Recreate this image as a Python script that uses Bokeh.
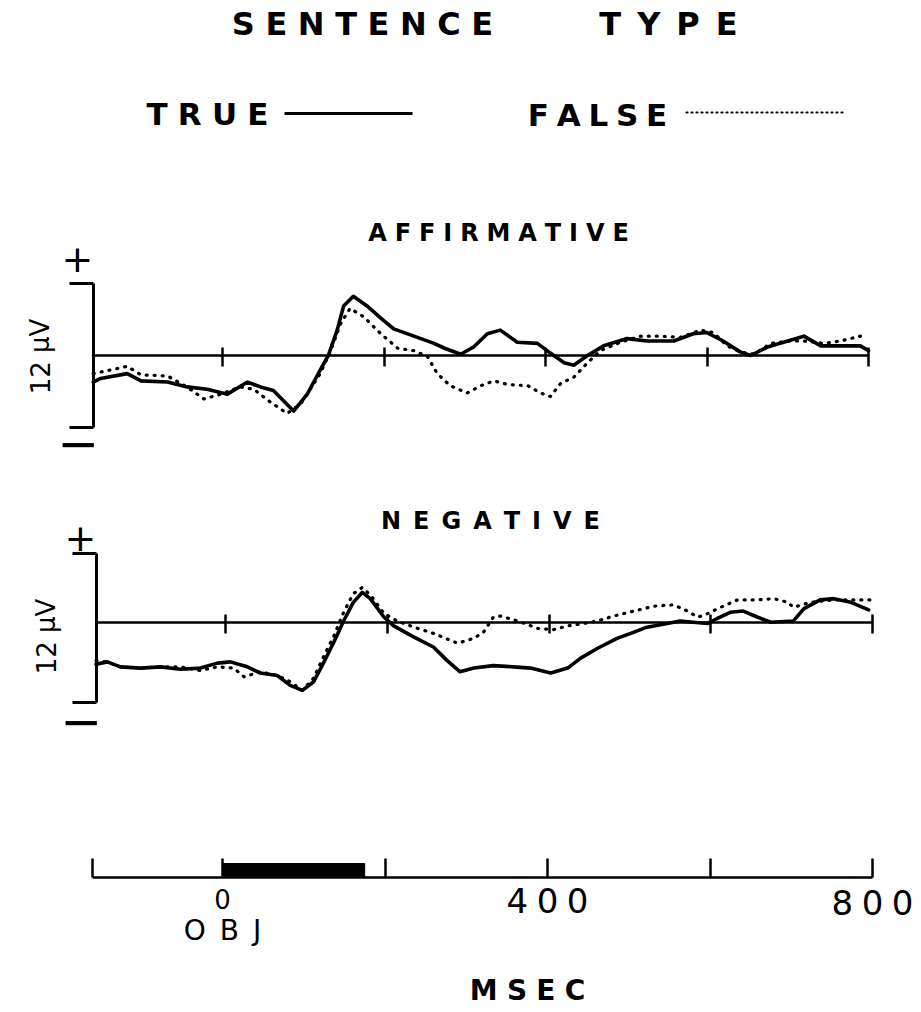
from bokeh.plotting import figure
from bokeh.models import Range1d, LinearAxis, FixedTicker, ColumnDataSource
from bokeh.layouts import column
from bokeh.embed import file_html
from bokeh.resources import INLINE
from bokeh.core.properties import value

# ---------------- data ----------------
T_START = -160
T_END = 800
AXIS_TICKS = [0, 200, 400, 600, 800]
TIME_TICKS = [-160, 0, 200, 400, 600, 800]
TIME_LABEL_VALUES = [0, 400, 800]
TIME_LABELS = ["0", "400", "800"]
STIM_ONSET = 0
STIM_OFFSET = 175
CAL_UV = 12

aff_true_t = [-160, -151, -118, -101, -68, -44, -19, 6, 31, 47, 63, 88, 105, 121, 131, 142,
              150, 162, 179, 196, 212, 237, 262, 275, 295, 311, 328, 344, 365, 390, 406, 423,
              435, 452, 472, 501, 526, 559, 583, 600, 620, 641, 654, 675, 700, 720, 741, 765,
              790, 800]
aff_true_v = [-2.2, -1.9, -1.5, -2.1, -2.2, -2.6, -2.8, -3.2, -2.2, -2.6, -2.9, -4.6, -3.2, -1.2,
              0.0, 2.1, 4.1, 4.9, 4.1, 3.1, 2.2, 1.6, 1.0, 0.6, 0.1, 0.7, 1.8, 2.1, 1.1, 1.0, 0.2,
              -0.6, -0.8, 0.0, 0.8, 1.4, 1.2, 1.2, 1.8, 1.9, 1.2, 0.3, 0.0, 0.7, 1.2, 1.6, 0.8,
              0.8, 0.8, 0.4]

aff_false_t = [-160, -139, -118, -101, -68, -44, -23, -2, 22, 39, 56, 80, 97, 121, 134, 146,
               158, 175, 196, 217, 237, 254, 266, 282, 303, 320, 336, 353, 378, 394, 406, 419,
               435, 452, 468, 493, 518, 542, 567, 592, 608, 625, 641, 658, 679, 703, 720, 745,
               765, 790]
aff_false_v = [-1.5, -1.2, -0.9, -1.6, -1.7, -2.6, -3.6, -3.2, -2.6, -2.8, -3.7, -4.8, -4.0, -1.5,
               0.4, 2.6, 3.9, 3.2, 1.8, 0.6, 0.4, -0.1, -1.5, -2.5, -3.1, -2.5, -2.1, -2.4, -2.5,
               -3.1, -3.4, -2.3, -1.8, -0.6, 0.4, 1.1, 1.6, 1.6, 1.5, 2.1, 1.9, 0.8, 0.3, 0.1,
               1.0, 1.2, 1.2, 1.0, 1.2, 1.6]

neg_true_t = [-160, -146, -130, -105, -80, -56, -31, -10, 6, 27, 43, 64, 80, 95, 109, 121, 134,
              146, 158, 169, 179, 196, 208, 233, 257, 274, 290, 307, 331, 356, 377, 402, 423,
              439, 460, 484, 505, 521, 546, 562, 578, 596, 608, 624, 640, 658, 674, 702, 715,
              735, 752, 773, 795]
neg_true_v = [-3.4, -3.2, -3.6, -3.7, -3.6, -3.8, -3.7, -3.3, -3.2, -3.6, -4.1, -4.3, -5.1, -5.5,
              -4.8, -3.3, -1.6, 0.1, 1.6, 2.4, 1.9, 0.4, -0.3, -1.2, -2.0, -3.1, -4.0, -3.7, -3.5,
              -3.6, -3.7, -4.1, -3.7, -2.9, -2.1, -1.3, -0.8, -0.4, -0.1, 0.1, 0.0, -0.1, 0.3,
              0.8, 0.9, 0.4, 0.0, 0.1, 1.1, 1.8, 1.9, 1.6, 1.0]

neg_false_t = [-160, -146, -130, -105, -80, -56, -31, -10, 10, 23, 43, 64, 80, 95, 109, 121, 134,
               146, 158, 169, 179, 196, 212, 233, 257, 287, 307, 319, 331, 340, 361, 386, 405,
               423, 443, 460, 480, 505, 530, 554, 571, 584, 596, 612, 633, 658, 678, 695, 702,
               723, 752, 776, 800]
neg_false_v = [-3.1, -3.2, -3.6, -3.7, -3.6, -3.6, -3.9, -3.6, -3.7, -4.4, -4.0, -4.3, -4.8, -5.5,
               -4.5, -2.8, -1.1, 0.8, 2.3, 2.8, 2.2, 0.7, 0.1, -0.4, -0.9, -1.7, -1.3, -0.8, 0.4,
               0.5, 0.1, -0.5, -0.6, -0.3, -0.1, 0.1, 0.5, 0.9, 1.3, 1.4, 0.9, 0.4, 0.7, 1.2, 1.8,
               1.8, 1.9, 1.6, 1.2, 1.6, 1.8, 1.8, 1.8]

# ---------------- layout / style ----------------
PAGE_L, PAGE_R = 0, 920
W = PAGE_R - PAGE_L
TITLE_FONT = value("DejaVu Sans")
DIGIT_FONT = value("DejaVu Sans")
SIGN_FONT = value("DejaVu Sans")

SPACES = [(1.0, "\u2003"), (0.5, "\u2002"), (1 / 3, "\u2004"), (0.25, "\u2005"),
          (0.2, "\u2009"), (1 / 6, "\u2006")]


def spaced(word, em):
    gap, r = "", em
    for w, ch in SPACES:
        while r >= w - 0.03:
            gap += ch
            r -= w
    return gap.join(word)


def base_fig(page_top, page_bottom, x_range, y_range):
    p = figure(width=W, height=page_bottom - page_top, x_range=x_range, y_range=y_range,
               output_backend="svg", toolbar_location=None, min_border=0,
               x_axis_location=None, y_axis_location=None, outline_line_color=None,
               background_fill_color="white", border_fill_color="white")
    p.grid.visible = False
    return p


def label(p, x, y, txt, size, font=TITLE_FONT, style="bold", angle=0.0, align="center"):
    p.text(x=[x], y=[y], text=[txt], text_font=font, text_font_size=size,
           text_font_style=style, text_align=align, text_baseline="middle",
           text_color="black", angle=angle)


# ---------------- header ----------------
head = base_fig(0, 205, Range1d(PAGE_L, PAGE_R), Range1d(205, 0))
label(head, 362, 23, spaced("SENTENCE", 0.37), "32px")
label(head, 668, 23, spaced("TYPE", 0.48), "32px")
label(head, 207, 113, spaced("TRUE", 0.36), "31px")
label(head, 597, 114, spaced("FALSE", 0.27), "31px")
head.line([284, 412], [113, 113], line_width=3, color="black")
head.line([686, 843], [112, 112], line_width=2.2, color="black", line_dash="1 4", line_cap="round")


# ---------------- ERP panels ----------------
def panel(page_top, page_bottom, x0, xs, y0, ys, tt, vt, tf, vf, cal_top, title, title_xy,
          plus_xy, minus_xy, unit_xy, title_gap):
    cal_bot = cal_top - CAL_UV
    xr = Range1d((PAGE_L - x0) / xs, (PAGE_R - x0) / xs)
    yr = Range1d((y0 - page_bottom) / ys, (y0 - page_top) / ys)
    p = base_fig(page_top, page_bottom, xr, yr)

    def X(px):
        return (px - x0) / xs

    def Y(py):
        return (y0 - py) / ys

    xaxis = LinearAxis(fixed_location=0, ticker=FixedTicker(ticks=AXIS_TICKS),
                       bounds=(T_START, T_END), major_tick_in=8, major_tick_out=11,
                       minor_tick_in=0, minor_tick_out=0, axis_line_width=2.5,
                       major_tick_line_width=2.5, axis_line_color="black",
                       major_tick_line_color="black", major_label_text_color=None)
    p.add_layout(xaxis, "below")
    yaxis = LinearAxis(fixed_location=T_START, ticker=FixedTicker(ticks=[cal_bot, cal_top]),
                       bounds=(cal_bot, cal_top), major_tick_in=0, major_tick_out=24,
                       minor_tick_in=0, minor_tick_out=0, axis_line_width=3,
                       major_tick_line_width=3, axis_line_color="black",
                       major_tick_line_color="black", major_label_text_color=None)
    p.add_layout(yaxis, "left")

    p.line(tt, vt, line_width=3.6, color="black", line_join="round", line_cap="round")
    p.line(tf, vf, line_width=3.2, color="black", line_dash="1 7", line_cap="round",
           line_join="round")

    label(p, X(title_xy[0]), Y(title_xy[1]), spaced(title, title_gap), "24px")
    label(p, X(plus_xy[0]), Y(plus_xy[1]), "+", "38px", font=SIGN_FONT, style="normal")
    label(p, X(minus_xy[0]), Y(minus_xy[1]), "\u2212", "50px", font=SIGN_FONT, style="normal")
    label(p, X(unit_xy[0]), Y(unit_xy[1]), "12 \u00b5V", "26px", style="normal",
          angle=1.5708)
    return p


aff = panel(205, 480, 222, 0.8075, 355, 12.08, aff_true_t, aff_true_v, aff_false_t,
            aff_false_v, 6.0, "AFFIRMATIVE", (498, 232), (77, 258), (78, 442), (40, 356), 0.4)
neg = panel(480, 790, 225, 0.809, 621.7, 12.4, neg_true_t, neg_true_v, neg_false_t,
            neg_false_v, 5.55, "NEGATIVE", (490, 520), (80, 537), (81, 720), (46, 636), 0.48)

# ---------------- time axis ----------------
TX0, TXS = 222, 0.8125
BOT_TOP, BOT_BOTTOM = 790, 1010
bot = base_fig(BOT_TOP, BOT_BOTTOM, Range1d((PAGE_L - TX0) / TXS, (PAGE_R - TX0) / TXS),
               Range1d(BOT_BOTTOM, BOT_TOP))
taxis = LinearAxis(fixed_location=877, ticker=FixedTicker(ticks=TIME_TICKS),
                   bounds=(T_START, T_END), major_tick_in=19, major_tick_out=0,
                   minor_tick_in=0, minor_tick_out=0, axis_line_width=2.5,
                   major_tick_line_width=2.5, axis_line_color="black",
                   major_tick_line_color="black", major_label_text_color=None)
bot.add_layout(taxis, "below")
bot.quad(left=[STIM_ONSET], right=[STIM_OFFSET], bottom=[877], top=[863], color="black")

lab_src = ColumnDataSource(dict(
    x=TIME_LABEL_VALUES,
    y=[898, 900, 902],
    text=[spaced(t, 0.29) for t in TIME_LABELS],
    size=["26px", "34px", "34px"],
))
bot.text(x="x", y="y", text="text", source=lab_src, text_font=DIGIT_FONT,
         text_font_size="size", text_align="center", text_baseline="middle", text_color="black")
label(bot, STIM_ONSET, 930, spaced("OBJ", 0.6), "28px", style="normal")
label(bot, (527 - TX0) / TXS, 990, spaced("MSEC", 0.44), "28px", style="bold")

layout = column(head, aff, neg, bot, spacing=0)
open("out.html", "w").write(file_html(layout, INLINE))
